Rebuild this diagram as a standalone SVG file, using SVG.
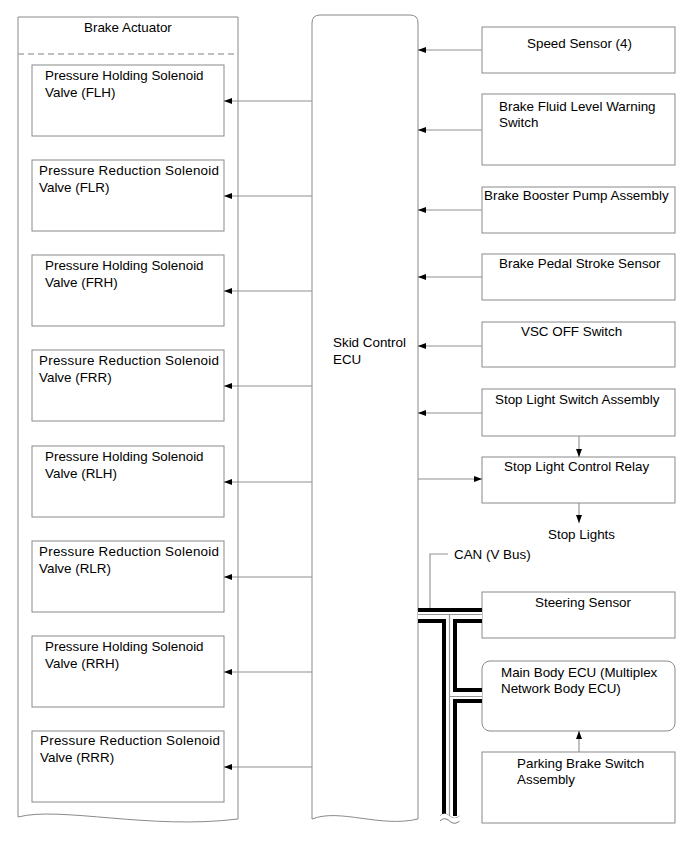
<svg xmlns="http://www.w3.org/2000/svg" width="690" height="855" viewBox="0 0 690 855">
<defs>
<marker id="ah" markerUnits="userSpaceOnUse" markerWidth="9" markerHeight="7" refX="8" refY="3" orient="auto"><path d="M0,0 L8,3 L0,6 z" fill="#000"/></marker>
<style>
text{font-family:"Liberation Sans",Arial,sans-serif;font-size:13.4px;fill:#000}
.box{fill:#fff;stroke:#8a8a8a;stroke-width:1}
.ln{fill:none;stroke:#8f8f8f;stroke-width:1.1}
.arr{fill:none;stroke:#8f8f8f;stroke-width:1.1;marker-end:url(#ah)}
</style>
</defs>
<rect width="690" height="855" fill="#fff"/>

<g id="brake-actuator">
<path class="box" d="M18,817 L18,17 L238,17 L238,819 C150,830 60,806 18,817 Z"/>
<line x1="18" y1="54" x2="238" y2="54" stroke="#aaa" stroke-width="1.4" stroke-dasharray="6,4"/>
<text x="84" y="32">Brake Actuator</text>
</g>
<g id="flh"><rect class="box" x="32" y="65" width="192" height="71"/><text x="45" y="80">Pressure Holding Solenoid</text><text x="45" y="97">Valve (FLH)</text></g>
<g id="flr"><rect class="box" x="32" y="160" width="192" height="71"/><text x="39" y="175" textLength="180" lengthAdjust="spacing">Pressure Reduction Solenoid</text><text x="39" y="192">Valve (FLR)</text></g>
<g id="frh"><rect class="box" x="32" y="255" width="192" height="71"/><text x="45" y="270">Pressure Holding Solenoid</text><text x="45" y="287">Valve (FRH)</text></g>
<g id="frr"><rect class="box" x="32" y="350" width="192" height="71"/><text x="39" y="365" textLength="180" lengthAdjust="spacing">Pressure Reduction Solenoid</text><text x="39" y="382">Valve (FRR)</text></g>
<g id="rlh"><rect class="box" x="32" y="446" width="192" height="71"/><text x="45" y="461">Pressure Holding Solenoid</text><text x="45" y="478">Valve (RLH)</text></g>
<g id="rlr"><rect class="box" x="32" y="541" width="192" height="71"/><text x="39" y="556" textLength="180" lengthAdjust="spacing">Pressure Reduction Solenoid</text><text x="39" y="573">Valve (RLR)</text></g>
<g id="rrh"><rect class="box" x="32" y="636" width="192" height="71"/><text x="45" y="651">Pressure Holding Solenoid</text><text x="45" y="668">Valve (RRH)</text></g>
<g id="rrr"><rect class="box" x="32" y="731" width="192" height="71"/><text x="40" y="745" textLength="180" lengthAdjust="spacing">Pressure Reduction Solenoid</text><text x="40" y="762">Valve (RRR)</text></g>

<g id="skid-ecu">
<path class="box" stroke="#777" d="M312,819 L312,23 Q312,15 320,15 L410,15 Q418,15 418,23 L418,819 C380,828 340,808 312,819 Z"/>
<text x="333" y="347">Skid Control</text><text x="333" y="364">ECU</text>
</g>

<g id="speed-sensor"><rect class="box" x="482" y="27" width="193" height="46"/><text x="527" y="48">Speed Sensor (4)</text></g>
<g id="fluid-switch"><rect class="box" x="482" y="94" width="193" height="71"/><text x="499" y="111">Brake Fluid Level Warning</text><text x="499" y="127">Switch</text></g>
<g id="booster"><rect class="box" x="482" y="187" width="193" height="46"/><text x="484" y="200">Brake Booster Pump Assembly</text></g>
<g id="pedal-sensor"><rect class="box" x="482" y="254" width="193" height="46"/><text x="499" y="268">Brake Pedal Stroke Sensor</text></g>
<g id="vsc-off"><rect class="box" x="482" y="322" width="193" height="45"/><text x="521" y="336">VSC OFF Switch</text></g>
<g id="stop-switch"><rect class="box" x="482" y="389" width="193" height="47"/><text x="495" y="404">Stop Light Switch Assembly</text></g>
<g id="stop-relay"><rect class="box" x="482" y="457" width="193" height="46"/><text x="504" y="471">Stop Light Control Relay</text></g>
<g id="stop-lights"><text x="548" y="539">Stop Lights</text></g>
<g id="steering"><rect class="box" x="482" y="592" width="193" height="46"/><text x="535" y="607">Steering Sensor</text></g>
<g id="main-body-ecu"><rect class="box" x="482" y="661" width="193" height="70" rx="8"/><text x="501" y="677">Main Body ECU (Multiplex</text><text x="501" y="693">Network Body ECU)</text></g>
<g id="parking-switch"><rect class="box" x="482" y="752" width="193" height="71"/><text x="517" y="768">Parking Brake Switch</text><text x="517" y="784">Assembly</text></g>

<g id="connectors">
<line class="arr" x1="312" y1="101" x2="224" y2="101"/>
<line class="arr" x1="312" y1="196" x2="224" y2="196"/>
<line class="arr" x1="312" y1="291" x2="224" y2="291"/>
<line class="arr" x1="312" y1="386" x2="224" y2="386"/>
<line class="arr" x1="312" y1="482" x2="224" y2="482"/>
<line class="arr" x1="312" y1="577" x2="224" y2="577"/>
<line class="arr" x1="312" y1="672" x2="224" y2="672"/>
<line class="arr" x1="312" y1="767" x2="224" y2="767"/>

<line class="arr" x1="482" y1="50" x2="418" y2="50"/>
<line class="arr" x1="482" y1="130" x2="418" y2="130"/>
<line class="arr" x1="482" y1="210" x2="418" y2="210"/>
<line class="arr" x1="482" y1="277" x2="418" y2="277"/>
<line class="arr" x1="482" y1="346" x2="418" y2="346"/>
<line class="arr" x1="482" y1="413" x2="418" y2="413"/>
<line class="arr" x1="418" y1="479" x2="482" y2="479"/>
<line class="arr" x1="579" y1="436" x2="579" y2="457"/>
<line class="arr" x1="579" y1="503" x2="579" y2="523"/>
<line class="arr" x1="579" y1="752" x2="579" y2="731"/>

<g id="can-bus">
<path d="M418,615.5 H482 M449.5,615.5 V818 M449.5,695.5 H482" fill="none" stroke="#000" stroke-width="15"/>
<path d="M418,615.5 H482 M449.5,615.5 V819 M449.5,695.5 H482" fill="none" stroke="#fff" stroke-width="7"/>
<path d="M418,614.5 H482 M449.5,614.5 V819 M449.5,696.5 H482" fill="none" stroke="#999" stroke-width="1.2"/>
<path d="M440,816 c3,-3 6,-3 9.5,0 s6.5,3 10,0" fill="#fff" stroke="#555" stroke-width="0.8"/>
<path d="M440,816 c3,-3 6,-3 9.5,0 s6.5,3 10,0 V824 H440 Z" fill="#fff" stroke="none"/>
<path d="M440,821 c3,-3 6,-3 9.5,0 s6.5,3 10,0" fill="none" stroke="#555" stroke-width="0.8"/>
<polyline class="ln" points="430,608 430,554 448,554"/>
<text x="454" y="559">CAN (V Bus)</text>
</g>
</g>
</svg>
